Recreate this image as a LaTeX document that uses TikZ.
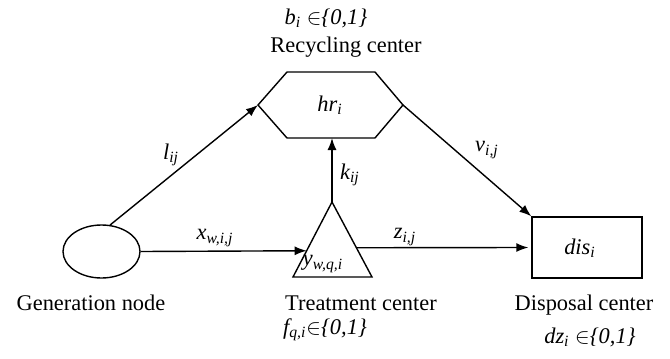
\documentclass[tikz,border=0pt]{standalone}
\usepackage{fontspec}
\setmainfont{Liberation Serif}
\usetikzlibrary{arrows.meta,shapes.geometric,calc}
\newcommand\subi[1]{\textsubscript{\itshape #1}}
\begin{document}
\begin{tikzpicture}[x=0.5pt,y=-0.5pt,line width=0.7pt,
  >={Latex[length=6pt,width=4.5pt]},
  lbl/.style={font=\fontsize{11.2}{13}\selectfont\itshape,inner sep=0pt},
  txt/.style={font=\fontsize{11.2}{13}\selectfont,inner sep=0pt},
  conn/.style={->}]
\useasboundingbox (0,0) rectangle (670,359);
% recycling center (hexagon)
\coordinate (hexL) at (258,105);
\coordinate (hexTL) at (287,72);
\coordinate (hexTR) at (375,72);
\coordinate (hexR) at (403,105);
\coordinate (hexBR) at (375,138);
\coordinate (hexBL) at (287,138);
\coordinate (hexB) at (332,138);
\draw (hexL)--(hexTL)--(hexTR)--(hexR)--(hexBR)--(hexBL)--cycle;
\node[lbl] (hr) at (330,105) {hr\subi{i}};
% treatment center (triangle)
\coordinate (triBL) at (293,277);
\coordinate (triBR) at (372,277);
\coordinate (triTop) at (332,202);
\draw (triBL)--(triTop)--(triBR)--cycle;
\coordinate (triIn) at ($(triBL)!0.35!(triTop)$);
\coordinate (triOut) at ($(triBR)!0.39!(triTop)$);
\node[lbl] (y) at (323,264) {y\subi{w,q,i}};
% generation node
\node[draw,ellipse,inner sep=0pt,minimum width=38.5pt,minimum height=26.5pt] (gen) at (101.5,251.5) {};
% disposal center
\node[draw,rectangle,inner sep=0pt,minimum width=55pt,minimum height=30.5pt] (dis) at (587,247.5) {};
\node[lbl] (distext) at (580,248) {dis\subi{i}};
% connectors
\draw[conn] (gen.72) -- (hexL);
\draw[conn] (gen.east) -- (triIn);
\draw[conn] (triTop) -- (hexB);
\draw[conn] (triOut) -- ([xshift=-1.5pt]dis.west);
\draw[conn] (hexR) -- (dis.north west);
% connector labels
\node[lbl] (l) at (171,155) {l\subi{ij}};
\node[lbl] (x) at (215,238) {x\subi{w,i,j}};
\node[lbl] (k) at (350,175) {k\subi{ij}};
\node[lbl] (z) at (405,237) {z\subi{i,j}};
\node[lbl] (v) at (487,150) {v\subi{i,j}};
% texts
\node[lbl] (b) at (326,18) {b\subi{i} $\in$\{0,1\}};
\node[txt] (rc) at (346,47) {Recycling center};
\node[txt] (gn) at (91,303) {Generation node};
\node[txt] (tc) at (361,303) {Treatment center};
\node[lbl] (f) at (325,330) {f\subi{q,i}$\in$\{0,1\}};
\node[txt] (dc) at (584,305) {Disposal center};
\node[lbl] (dz) at (590,337) {dz\subi{i} $\in$\{0,1\}};
\end{tikzpicture}
\end{document}
